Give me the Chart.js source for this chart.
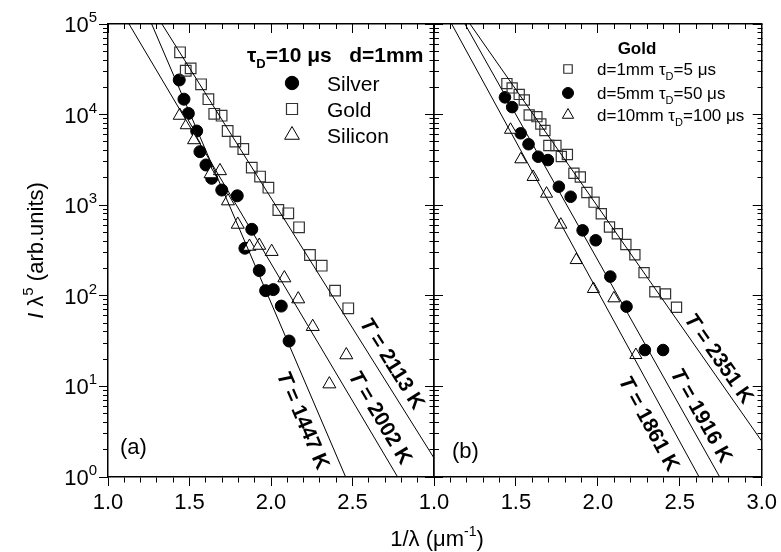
<!doctype html>
<html lang="en">
<head>
<meta charset="utf-8">
<title>Wien plots: silver, gold, silicon</title>
<script src="https://cdn.jsdelivr.net/npm/chart.js"></script>
<style>
  body { margin: 0; background: #fff; }
  #wrap { position: relative; width: 781px; height: 552px; }
  #wrap canvas { position: absolute; left: 0; top: 0; }
</style>
</head>
<body>
<div id="wrap">
  <canvas id="panel-a" width="781" height="552"></canvas>
  <canvas id="panel-b" width="781" height="552"></canvas>
</div>
<script>
// ---- values: x = 1/lambda (um^-1), y = I*lambda^5 ----
// (a) tau_D = 10 us, d = 1 mm
const silverAx = [1.437, 1.466, 1.493, 1.544, 1.564, 1.601, 1.636, 1.698, 1.793, 1.882, 1.840, 1.928, 1.967, 2.014, 2.063, 2.111];
const silverAy = [24100, 14800, 10300, 6590, 3900, 2780, 1980, 1470, 1270, 542, 335, 190, 114, 117, 77, 31.7];
const goldAx = [1.442, 1.477, 1.507, 1.571, 1.616, 1.652, 1.697, 1.734, 1.781, 1.830, 1.882, 1.933, 1.984, 2.045, 2.106, 2.172, 2.239, 2.311, 2.393, 2.474];
const goldAy = [48700, 30500, 32400, 21600, 14800, 10200, 9730, 6590, 5030, 4170, 2600, 2070, 1560, 885, 814, 570, 282, 215, 114, 72.8];
const siliconAx = [1.440, 1.483, 1.528, 1.629, 1.687, 1.736, 1.796, 1.868, 1.928, 2.004, 2.082, 2.167, 2.256, 2.462, 2.358];
const siliconAy = [9770, 7680, 5250, 2210, 2390, 1110, 613, 350, 359, 307, 157, 92, 45.6, 22.2, 10.6];

// (b) gold, three spot sizes / delays
const gold1x = [1.445, 1.477, 1.520, 1.551, 1.581, 1.628, 1.652, 1.677, 1.701, 1.744, 1.777, 1.814, 1.854, 1.893, 1.933, 1.977, 2.021, 2.071, 2.119, 2.171, 2.226, 2.282, 2.348, 2.413, 2.480];
const gold1y = [22000, 19700, 16700, 14500, 9900, 9490, 7870, 6680, 4560, 4560, 3450, 3630, 2250, 2050, 1380, 1080, 805, 574, 484, 368, 284, 180, 111, 105, 74.7];
const gold5x = [1.433, 1.477, 1.529, 1.577, 1.636, 1.695, 1.762, 1.834, 1.907, 1.987, 2.076, 2.175, 2.287, 2.398];
const gold5y = [15500, 12100, 6220, 4710, 3430, 3150, 1600, 1240, 528, 410, 163, 75.9, 25.2, 25.2];
const gold10x = [1.467, 1.530, 1.605, 1.687, 1.774, 1.868, 1.973, 2.098, 2.232];
const gold10y = [6800, 3210, 2050, 1340, 610, 248, 119, 93.8, 22.2];

// fitted lines, two end points each
const fitTempA = [1447, 2002, 2113];
const fitXA = [[1.268, 2.458], [1.129, 2.777], [1.331, 3.0]];
const fitYA = [[1e5, 1], [1e5, 1], [1e5, 1.62]];
const fitTempB = [1861, 1916, 2351];
const fitXB = [[1.108, 2.618], [1.189, 2.744], [1.220, 3.0]];
const fitYB = [[1e5, 1], [1e5, 1], [1e5, 2.49]];

// axes
const xMajor = [1.0, 1.5, 2.0, 2.5, 3.0];
const yDecadeExp = [0, 1, 2, 3, 4, 5];

// ---- drawing ----
const FONT = "'Liberation Sans', Arial, Helvetica, sans-serif";
const MAJOR_LEN = 9, MINOR_LEN = 5;
const font = (size, style) => ((style || '') + ' ' + size + 'px ' + FONT).trim();

const near = (a, b) => Math.abs(a - b) < 1e-6;
const isMajorX = v => xMajor.some(m => near(m, v));
const isMajorY = v => yDecadeExp.some(e => near(Math.log10(v), e));
const pts = (xs, ys) => xs.map((x, i) => ({ x, y: ys[i] }));

// Chart.js draws all tick marks the same length; a dash pattern trims the
// minor ones down to the piece touching the axis line.
function tickDash(isMajor, startsAtAxis) {
  return c => {
    if (!c.tick || isMajor(c.tick.value)) return [];
    return startsAtAxis ? [MINOR_LEN, 60] : [0, MAJOR_LEN - MINOR_LEN, MINOR_LEN, 60];
  };
}

function xAxis(position, showLabels, hideLast) {
  return {
    type: 'linear', position, min: 1, max: 3,
    ticks: {
      display: showLabels, stepSize: 0.1, autoSkip: false, maxRotation: 0, padding: 4,
      color: '#000', font: { family: FONT, size: 22 },
      callback: v => (isMajorX(v) && !(hideLast && near(v, 3))) ? v.toFixed(1) : ''
    },
    grid: {
      drawOnChartArea: false, tickColor: '#000', tickWidth: 1,
      tickLength: position === 'bottom' ? MAJOR_LEN : -MAJOR_LEN,
      tickBorderDash: tickDash(isMajorX, position === 'bottom')
    },
    border: { color: '#000', width: 1.5 },
    afterFit: s => { s.height = position === 'bottom' ? 75 : 0; }
  };
}

function yAxis(position, inward, space) {
  return {
    type: 'logarithmic', position, min: 1, max: 1e5,
    afterBuildTicks: s => {
      const t = [];
      for (let e = 0; e < 5; e++) for (let m = 1; m < 10; m++) t.push({ value: m * Math.pow(10, e) });
      t.push({ value: 1e5 });
      s.ticks = t;
    },
    ticks: { autoSkip: false, callback: () => '' },
    grid: {
      drawOnChartArea: false, tickColor: '#000', tickWidth: 1,
      tickLength: inward ? -MAJOR_LEN : MAJOR_LEN,
      tickBorderDash: tickDash(isMajorY, position === 'right')
    },
    border: { color: '#000', width: 1.5 },
    afterFit: s => { s.width = space; }
  };
}

function fitSets(xs, ys) {
  return xs.map((x, i) => ({
    data: pts(x, ys[i]), showLine: true, pointRadius: 0,
    borderColor: '#000', borderWidth: 1, order: 0
  }));
}

const marker = {
  circle: { pointStyle: 'circle', pointRadius: 6, backgroundColor: '#000', borderColor: '#000', borderWidth: 1, order: 3 },
  square: { pointStyle: 'rect', pointRadius: 7.5, backgroundColor: 'rgba(0,0,0,0)', borderColor: '#333', borderWidth: 1.2, order: 2 },
  triangle: { pointStyle: 'triangle', pointRadius: 7.5, backgroundColor: '#fff', borderColor: '#000', borderWidth: 1, order: 1 }
};

function drawRuns(ctx, parts, x, y) {
  for (const p of parts) {
    ctx.font = p.font;
    ctx.fillText(p.text, x, y + (p.dy || 0));
    x += ctx.measureText(p.text).width;
  }
  return x;
}
function runsWidth(ctx, parts) {
  let w = 0;
  for (const p of parts) { ctx.font = p.font; w += ctx.measureText(p.text).width; }
  return w;
}
function drawMarker(ctx, m, x, y, r) {
  ctx.fillStyle = m.backgroundColor;
  ctx.strokeStyle = m.borderColor;
  ctx.lineWidth = m.borderWidth;
  Chart.helpers.drawPoint(ctx, { pointStyle: m.pointStyle, radius: r, borderWidth: m.borderWidth, rotation: 0 }, x, y);
}

// text and legends, laid out per panel
const decor = {
  'panel-a': {
    tag: { text: '(a)', dx: 12, dy: -23 },
    fits: { temps: fitTempA, xs: fitXA, ys: fitYA, at: [[2.202, 4.26], [2.675, 4.59], [2.748, 18.1]] },
    legend: {
      title: [
        { text: 'τ', font: font(21, 'bold') },
        { text: 'D', font: font(13, 'bold'), dy: 6 },
        { text: '=10 μs   d=1mm', font: font(21, 'bold') }
      ],
      titleAt: [139, 38], titleAlign: 'left',
      markerX: 184, textX: 219, rows: [59, 85, 111], textSize: 21,
      items: [
        { m: marker.circle, r: 6.7, label: [{ text: 'Silver' }] },
        { m: marker.square, r: 7.8, label: [{ text: 'Gold' }] },
        { m: marker.triangle, r: 8.5, label: [{ text: 'Silicon' }] }
      ]
    },
    axisText: true
  },
  'panel-b': {
    tag: { text: '(b)', dx: 18, dy: -19 },
    fits: { temps: fitTempB, xs: fitXB, ys: fitYB, at: [[2.317, 3.94], [2.637, 4.83], [2.744, 20.6]] },
    legend: {
      title: [{ text: 'Gold', font: font(17, 'bold') }],
      titleAt: [203, 30], titleAlign: 'center',
      markerX: 134, textX: 163, rows: [45, 69, 91], textSize: 17,
      items: [
        { m: marker.square, r: 6, label: [{ text: 'd=1mm τ' }, { text: 'D', sub: true }, { text: '=5 μs' }] },
        { m: marker.circle, r: 5.5, label: [{ text: 'd=5mm τ' }, { text: 'D', sub: true }, { text: '=50 μs' }] },
        { m: marker.triangle, r: 6.5, label: [{ text: 'd=10mm τ' }, { text: 'D', sub: true }, { text: '=100 μs' }] }
      ]
    },
    axisText: false
  }
};

const decorPlugin = {
  id: 'decor',
  afterDraw(chart) {
    const d = decor[chart.canvas.id];
    const ctx = chart.ctx, area = chart.chartArea;
    const xs = chart.scales.x, ys = chart.scales.y;
    ctx.save();
    ctx.fillStyle = '#000';
    ctx.textBaseline = 'alphabetic';

    // panel tag
    ctx.font = font(22);
    ctx.fillText(d.tag.text, area.left + d.tag.dx, area.bottom + d.tag.dy);

    // temperature labels along the fitted lines
    d.fits.temps.forEach((T, i) => {
      const x0 = xs.getPixelForValue(d.fits.xs[i][0]), y0 = ys.getPixelForValue(d.fits.ys[i][0]);
      const x1 = xs.getPixelForValue(d.fits.xs[i][1]), y1 = ys.getPixelForValue(d.fits.ys[i][1]);
      const parts = [{ text: 'T', font: font(21, 'italic bold') }, { text: ' = ' + T + ' K', font: font(21, 'bold') }];
      ctx.save();
      ctx.translate(xs.getPixelForValue(d.fits.at[i][0]), ys.getPixelForValue(d.fits.at[i][1]));
      ctx.rotate(Math.atan2(y1 - y0, x1 - x0));
      drawRuns(ctx, parts, -runsWidth(ctx, parts) / 2, 7.5);
      ctx.restore();
    });

    // legend
    const lg = d.legend;
    const tw = runsWidth(ctx, lg.title);
    const tx = area.left + lg.titleAt[0] - (lg.titleAlign === 'center' ? tw / 2 : 0);
    drawRuns(ctx, lg.title, tx, area.top + lg.titleAt[1]);
    lg.items.forEach((it, i) => {
      const cy = area.top + lg.rows[i];
      drawMarker(ctx, it.m, area.left + lg.markerX, cy, it.r);
      ctx.fillStyle = '#000';
      const parts = it.label.map(p => ({
        text: p.text,
        font: p.sub ? font(Math.round(lg.textSize * 0.62)) : font(lg.textSize),
        dy: p.sub ? lg.textSize * 0.3 : 0
      }));
      drawRuns(ctx, parts, area.left + lg.textX, cy + lg.textSize * 0.36);
    });

    if (d.axisText) {
      // y tick labels 10^n
      yDecadeExp.forEach(e => {
        const py = ys.getPixelForValue(Math.pow(10, e));
        const parts = [{ text: '10', font: font(22) }, { text: String(e), font: font(15), dy: -10 }];
        drawRuns(ctx, parts, area.left - 11 - runsWidth(ctx, parts), py + 8);
      });
      // y title
      const yt = [
        { text: 'I', font: font(22, 'italic') },
        { text: ' λ', font: font(22) },
        { text: '5', font: font(15), dy: -10 },
        { text: ' (arb.units)', font: font(22) }
      ];
      ctx.save();
      ctx.translate(35, (area.top + area.bottom) / 2);
      ctx.rotate(-Math.PI / 2);
      drawRuns(ctx, yt, -runsWidth(ctx, yt) / 2, 8);
      ctx.restore();
      // x title, centred under both panels
      const xt = [
        { text: '1/λ (μm', font: font(22) },
        { text: '-1', font: font(14), dy: -10 },
        { text: ')', font: font(22) }
      ];
      drawRuns(ctx, xt, area.right + 3 - runsWidth(ctx, xt) / 2, 546);
    }
    ctx.restore();
  }
};

function makeChart(id, datasets, padding, leftSpace, showYLabels, hideLastX) {
  return new Chart(document.getElementById(id), {
    type: 'scatter',
    data: { datasets },
    options: {
      responsive: false, animation: false, devicePixelRatio: 1, events: [],
      layout: { padding },
      scales: {
        x: xAxis('bottom', true, hideLastX),
        xTop: xAxis('top', false, false),
        y: yAxis('left', !showYLabels, leftSpace),
        yRight: yAxis('right', true, 0)
      },
      plugins: { legend: { display: false }, tooltip: { enabled: false } }
    },
    plugins: [decorPlugin]
  });
}

makeChart('panel-a', [
  ...fitSets(fitXA, fitYA),
  { data: pts(siliconAx, siliconAy), ...marker.triangle },
  { data: pts(goldAx, goldAy), ...marker.square },
  { data: pts(silverAx, silverAy), ...marker.circle }
], { left: 0, top: 24, right: 347, bottom: 0 }, 108, true, true);

makeChart('panel-b', [
  ...fitSets(fitXB, fitYB),
  { data: pts(gold10x, gold10y), ...marker.triangle, pointRadius: 7 },
  { data: pts(gold1x, gold1y), ...marker.square, pointRadius: 7.2 },
  { data: pts(gold5x, gold5y), ...marker.circle, pointRadius: 5.8 }
], { left: 434, top: 24, right: 19, bottom: 0 }, 0, false, false);
</script>
</body>
</html>
